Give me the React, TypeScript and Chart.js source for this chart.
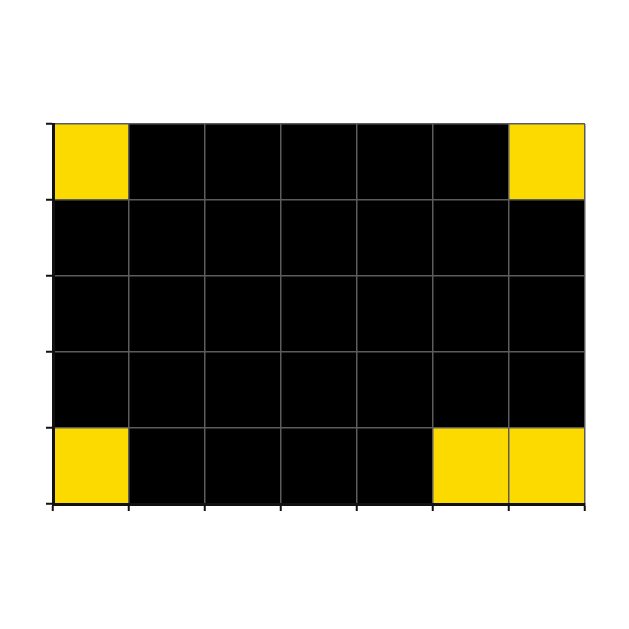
import React, { useEffect, useRef } from "react";
import { Chart, registerables } from "chart.js";

Chart.register(...registerables);

const xCategories = [0, 1, 2, 3, 4, 5, 6];
const yCategories = [0, 1, 2, 3, 4];
// rows listed from bottom (y=0) to top (y=4); 1 = yellow, 0 = black
const row0 = [1, 0, 0, 0, 0, 1, 1];
const row1 = [0, 0, 0, 0, 0, 0, 0];
const row2 = [0, 0, 0, 0, 0, 0, 0];
const row3 = [0, 0, 0, 0, 0, 0, 0];
const row4 = [1, 0, 0, 0, 0, 0, 1];
const rows = [row0, row1, row2, row3, row4];

const ON_COLOR = "#FCDA00";
const OFF_COLOR = "#000000";

const cellPlugin = {
  id: "cells",
  beforeDatasetsDraw(chart: any) {
    const { ctx, scales } = chart;
    const xs = scales.x;
    const ys = scales.y;
    ctx.save();
    yCategories.forEach((yv, j) => {
      xCategories.forEach((xv, i) => {
        const x0 = xs.getPixelForValue(xv);
        const x1 = xs.getPixelForValue(xv + 1);
        const y0 = ys.getPixelForValue(yv + 1);
        const y1 = ys.getPixelForValue(yv);
        ctx.fillStyle = rows[j][i] ? ON_COLOR : OFF_COLOR;
        ctx.fillRect(x0, y0, x1 - x0, y1 - y0);
      });
    });
    ctx.restore();
  },
};

export default function App() {
  const ref = useRef<HTMLCanvasElement | null>(null);
  useEffect(() => {
    if (!ref.current) return;
    const chart = new Chart(ref.current, {
      type: "scatter",
      data: { datasets: [{ data: [], pointRadius: 0 }] },
      options: {
        animation: false,
        responsive: false,
        events: [],
        layout: { padding: { left: 0, top: 124, right: 44, bottom: 105 } },
        plugins: { legend: { display: false }, tooltip: { enabled: false } },
        scales: {
          x: {
            type: "linear",
            min: 0,
            max: 7,
            afterFit: (s: any) => { s.height = 20; },
            ticks: { display: false, stepSize: 1 },
            grid: { color: "#5c5c5c", lineWidth: 1.5, tickColor: "#111", tickWidth: 2, tickLength: 7, z: 1 },
            border: { display: true, color: "#111", width: 3, z: 2 },
          },
          y: {
            type: "linear",
            min: 0,
            max: 5,
            afterFit: (s: any) => { s.width = 53; },
            ticks: { display: false, stepSize: 1 },
            grid: { color: "#5c5c5c", lineWidth: 1.5, tickColor: "#111", tickWidth: 2, tickLength: 7, z: 1 },
            border: { display: true, color: "#111", width: 3, z: 2 },
          },
        },
      },
      plugins: [cellPlugin],
    });
    return () => chart.destroy();
  }, []);
  return (
    <div style={{ position: "fixed", left: 0, top: 0, width: 629, height: 629, background: "#fff" }}>
      <canvas ref={ref} width={629} height={629} style={{ display: "block" }} />
    </div>
  );
}
